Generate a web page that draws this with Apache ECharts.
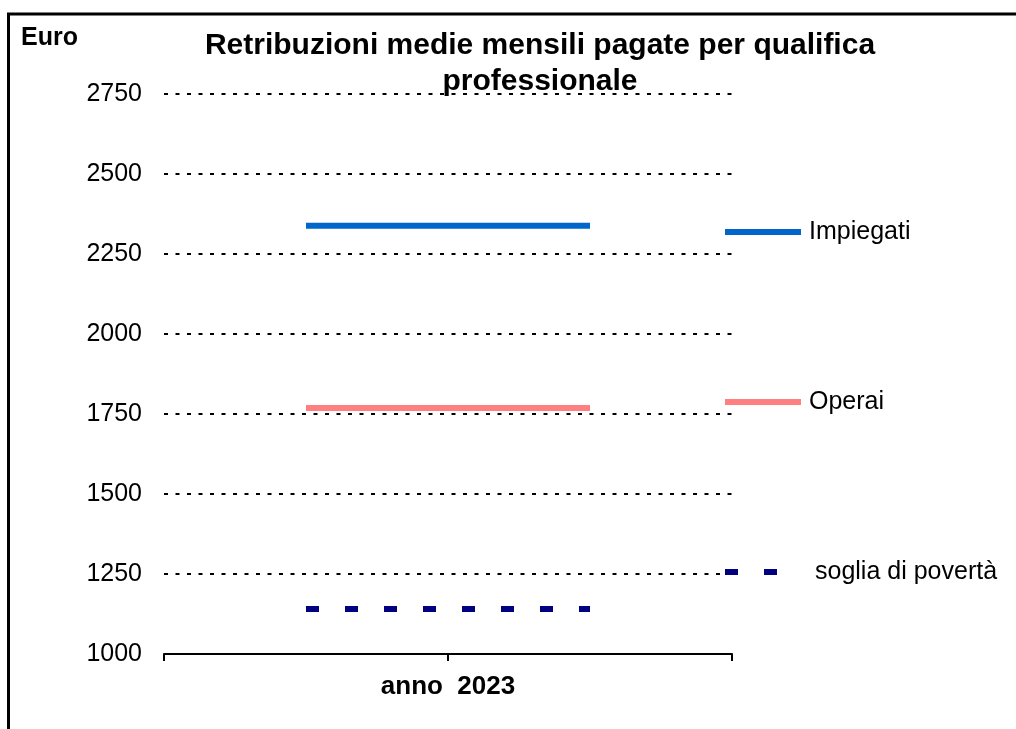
<!DOCTYPE html>
<html>
<head>
<meta charset="utf-8">
<script src="https://cdn.jsdelivr.net/npm/echarts@6/dist/echarts.min.js"></script>
<style>
  html, body { margin: 0; padding: 0; background: #ffffff; }
  #chart { width: 1016px; height: 729px; }
</style>
</head>
<body>
<div id="chart"></div>
<script>
// ---- data ----
const titleLines = ['Retribuzioni medie mensili pagate per qualifica', 'professionale'];
const unitLabel = 'Euro';
const periodLabel = 'anno  2023';
const categories = ['anno 2023', 'anno 2023'];
const seriesNames = ['Impiegati', 'Operai', 'soglia di povertà'];
const impiegati = [2338, 2338];
const operai = [1769, 1769];
const sogliaPoverta = [1141, 1141];
const yMin = 1000;
const yMax = 2750;
const yStep = 250;

// ---- chart ----
const FONT = '"Liberation Sans", Arial, sans-serif';
const chart = echarts.init(document.getElementById('chart'), null, { renderer: 'canvas' });

const seriesColors = ['#0066CC', '#FF8080', '#000080'];

function legendFor(i, top, opts) {
  opts = opts || {};
  return {
    data: [seriesNames[i]],
    left: opts.left || 722,
    top: top,
    padding: 0,
    orient: 'vertical',
    itemWidth: opts.itemWidth || 76,
    itemHeight: 6,
    icon: opts.icon,
    selectedMode: false,
    lineStyle: { width: 6, cap: 'butt', color: seriesColors[i] },
    itemStyle: { color: seriesColors[i] },
    textStyle: {
      fontFamily: FONT, fontSize: 25, color: '#000',
      lineHeight: 30, padding: [0, 0, 0, opts.pad == null ? 3 : opts.pad]
    }
  };
}

chart.setOption({
  animation: false,
  backgroundColor: '#ffffff',
  grid: { left: 164, right: 284, top: 94, bottom: 75, containLabel: false },
  legend: [
    legendFor(0, 217),
    legendFor(1, 387),
    legendFor(2, 557, { left: 725, itemWidth: 52, icon: 'path://M0,0h13v6h-13z M39,0h13v6h-13z', pad: 33 })
  ],
  xAxis: {
    type: 'category',
    data: categories,
    boundaryGap: true,
    name: periodLabel,
    nameLocation: 'middle',
    nameGap: 20,
    nameTextStyle: { fontFamily: FONT, fontSize: 26, fontWeight: 'bold', color: '#000' },
    axisLine: { show: true, lineStyle: { color: '#000', width: 2 } },
    axisTick: { show: true, length: 7, lineStyle: { color: '#000', width: 2 } },
    axisLabel: { show: false },
    splitLine: { show: false }
  },
  yAxis: {
    type: 'value',
    min: yMin,
    max: yMax,
    interval: yStep,
    axisLine: { show: false },
    axisTick: { show: false },
    axisLabel: { fontFamily: FONT, fontSize: 25, color: '#000', margin: 22, formatter: v => String(v) },
    splitLine: { show: true, lineStyle: { color: '#000', width: 2, type: [4, 7.5] } }
  },
  series: [
    {
      name: seriesNames[0], type: 'line', data: impiegati, symbol: 'none',
      lineStyle: { color: seriesColors[0], width: 6 }, itemStyle: { color: seriesColors[0] }, z: 3
    },
    {
      name: seriesNames[1], type: 'line', data: operai, symbol: 'none',
      lineStyle: { color: seriesColors[1], width: 6 }, itemStyle: { color: seriesColors[1] }, z: 3
    },
    {
      name: seriesNames[2], type: 'line', data: sogliaPoverta, symbol: 'none',
      lineStyle: { color: seriesColors[2], width: 6, type: [13, 26], cap: 'butt' }, itemStyle: { color: seriesColors[2] }, z: 3
    }
  ],
  graphic: [
    {
      type: 'rect', silent: true, z: -1,
      shape: { x: 8.5, y: 14, width: 1030, height: 740 },
      style: { fill: 'none', stroke: '#000', lineWidth: 3 }
    },
    {
      type: 'text', left: 21, top: 26,
      style: { text: unitLabel, font: 'bold 25px ' + FONT, fill: '#000' }
    },
    {
      type: 'text', x: 540, y: 28,
      style: {
        text: titleLines.join('\n'), font: 'bold 30px ' + FONT, fill: '#000',
        textAlign: 'center', textVerticalAlign: 'top', lineHeight: 36
      }
    }
  ]
});
</script>
</body>
</html>
